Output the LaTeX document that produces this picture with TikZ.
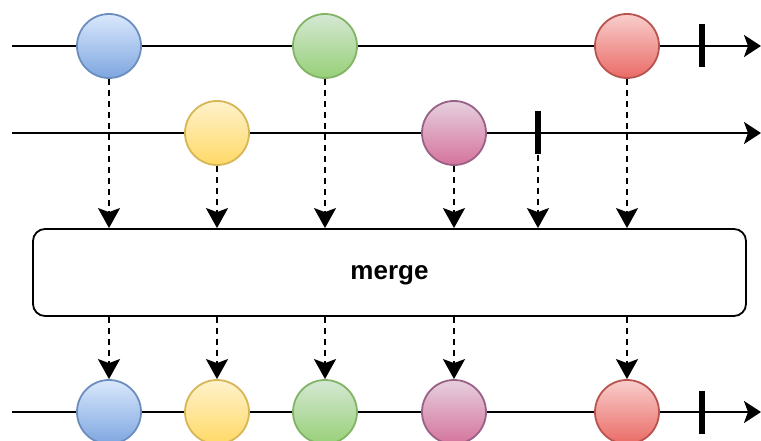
\documentclass[tikz,border=0pt]{standalone}
\usepackage{fontspec}
\setmainfont{Liberation Sans}
\usetikzlibrary{arrows.meta}
\definecolor{bluetop}{HTML}{DAE8FC}\definecolor{bluebot}{HTML}{7EA6E0}\definecolor{bluestroke}{HTML}{6C8EBF}
\definecolor{greentop}{HTML}{D5E8D4}\definecolor{greenbot}{HTML}{97D077}\definecolor{greenstroke}{HTML}{82B366}
\definecolor{redtop}{HTML}{F8CECC}\definecolor{redbot}{HTML}{EA6B66}\definecolor{redstroke}{HTML}{B85450}
\definecolor{yellowtop}{HTML}{FFF2CC}\definecolor{yellowbot}{HTML}{FFD966}\definecolor{yellowstroke}{HTML}{D6B656}
\definecolor{purpletop}{HTML}{E6D0DE}\definecolor{purplebot}{HTML}{D5739D}\definecolor{purplestroke}{HTML}{996185}
\begin{document}
\begin{tikzpicture}[x=1pt,y=-1pt,
  ball/.style={circle, draw=#1stroke, top color=#1top, bottom color=#1bot, line width=1.8pt, minimum size=64pt, inner sep=0pt},
  timeline/.style={line width=2.2pt, -{Stealth[length=17pt,width=22pt,inset=4pt]}},
  flow/.style={line width=2.2pt, dash pattern=on 6pt off 5pt, -{Stealth[length=20pt,width=22pt,inset=4pt]}},
  endmark/.style={fill=black, minimum width=6.5pt, minimum height=43pt, inner sep=0pt},
  mergebox/.style={draw, rounded corners=12pt, line width=1.8pt, minimum width=713pt, minimum height=87pt, font=\bfseries\fontsize{26}{28}\selectfont}]
\useasboundingbox (0,0) rectangle (761,441);
% timelines
\coordinate (s1) at (12,46);   \coordinate (e1) at (761,46);
\coordinate (s2) at (12,133);  \coordinate (e2) at (761,133);
\coordinate (s3) at (12,412);  \coordinate (e3) at (761,412);
\draw[timeline] (s1) -- (e1);
\draw[timeline] (s2) -- (e2);
\draw[timeline] (s3) -- (e3);
% top stream
\node[ball=blue] (b1) at (109,46) {};
\node[ball=green] (g1) at (325,46) {};
\node[ball=red] (r1) at (627,46) {};
\node[endmark] (t1) at (702,46) {};
% middle stream
\node[ball=yellow] (y2) at (217,133) {};
\node[ball=purple] (p2) at (454,133) {};
\node[endmark] (t2) at (538,133) {};
% merge
\node[mergebox] (m) at (389.5,272.5) {\raisebox{-6.8pt}[0pt][0pt]{merge}};
% output stream
\node[ball=blue] (b3) at (109,412) {};
\node[ball=yellow] (y3) at (217,412) {};
\node[ball=green] (g3) at (325,412) {};
\node[ball=purple] (p3) at (454,412) {};
\node[ball=red] (r3) at (627,412) {};
\node[endmark] (t3) at (702,412) {};
% inputs to merge
\foreach \n in {b1,y2,g1,p2,t2,r1}
  \draw[flow] (\n.south) -- (\n.south |- m.north);
% merge to outputs
\foreach \n in {b3,y3,g3,p3,r3}
  \draw[flow] (m.south -| \n.north) -- (\n.north);
\end{tikzpicture}
\end{document}
